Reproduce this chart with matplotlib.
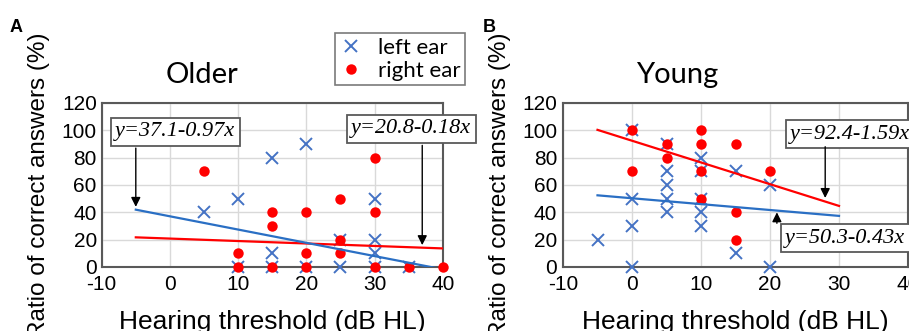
import matplotlib.pyplot as plt
import numpy as np
from matplotlib.lines import Line2D

plt.rcParams['font.family'] = ['Liberation Sans', 'DejaVu Sans']
plt.rcParams['axes.unicode_minus'] = False

# --- data ---
older_left_x = [5, 10, 10, 15, 15, 15, 20, 20, 25, 25, 30, 30, 30, 30, 35]
older_left_y = [40, 50, 0, 80, 10, 0, 90, 0, 20, 0, 50, 20, 10, 0, 0]
older_right_x = [5, 10, 10, 15, 15, 15, 20, 20, 20, 25, 25, 25, 30, 30, 30, 35, 40]
older_right_y = [70, 10, 0, 40, 30, 0, 40, 10, 0, 50, 20, 10, 80, 40, 0, 0, 0]

young_left_x = [-5, 0, 0, 0, 0, 5, 5, 5, 5, 5, 10, 10, 10, 10, 10, 15, 15, 20, 20]
young_left_y = [20, 100, 50, 30, 0, 90, 70, 60, 50, 40, 80, 70, 50, 40, 30, 70, 10, 60, 0]
young_right_x = [0, 0, 5, 5, 10, 10, 10, 10, 15, 15, 15, 20]
young_right_y = [100, 70, 90, 80, 100, 90, 70, 50, 90, 40, 20, 70]

# regression lines: (intercept, slope), fitted x range
older_left_fit = (37.1, -0.97)
older_right_fit = (20.8, -0.18)
young_left_fit = (50.3, -0.43)
young_right_fit = (92.4, -1.59)
older_range = (-5, 40)
young_range = (-5, 30)

xticks = [-10, 0, 10, 20, 30, 40]
yticks = [0, 20, 40, 60, 80, 100, 120]

BLUE_M = '#4472C4'
BLUE_L = '#2a6fc4'
RED = '#ff0000'
SPINE = '#595959'

fig = plt.figure(figsize=(9.09, 3.31), dpi=100)
ax_a = fig.add_axes([101.7/909, 64/331, 341/909, 164/331])
ax_b = fig.add_axes([563/909, 64/331, 345/909, 164/331])


def style_axes(ax, ypad):
    ax.set_xlim(xticks[0], xticks[-1])
    ax.set_ylim(yticks[0], yticks[-1])
    ax.set_xticks(xticks)
    ax.set_yticks(yticks)
    ax.grid(True, color='#d9d9d9', lw=1)
    ax.set_axisbelow(True)
    ax.tick_params(length=0, labelsize=15)
    ax.tick_params(axis='x', pad=6)
    ax.tick_params(axis='y', pad=ypad)
    for s in ax.spines.values():
        s.set_color(SPINE)
        s.set_linewidth(1.5)


def draw_panel(ax, lx, ly, rx, ry, lfit, rfit, xr):
    ax.plot(lx, ly, 'x', color=BLUE_M, ms=9, mew=1.4, clip_on=False, zorder=3)
    ax.plot(rx, ry, 'o', color=RED, ms=7.5, mec='none', clip_on=False, zorder=4)
    xs = np.array(xr)
    ax.plot(xs, rfit[0] + rfit[1]*xs, color=RED, lw=1.6, zorder=5)
    ax.plot(xs, lfit[0] + lfit[1]*xs, color=BLUE_L, lw=1.6, zorder=5)


def eq_box(ax, x, y, txt):
    ax.text(x, y, txt, ha='center', va='center', fontsize=16, style='italic',
            family=['Liberation Serif', 'DejaVu Serif'], clip_on=False, zorder=6,
            bbox=dict(boxstyle='square,pad=0.2', fc='white', ec=SPINE, lw=1.3))


def arrow(ax, x0, y0, x1, y1):
    ax.annotate('', xy=(x1, y1), xytext=(x0, y0), annotation_clip=False, zorder=6,
                arrowprops=dict(arrowstyle='-|>', color='black', lw=1,
                                mutation_scale=14, shrinkA=0, shrinkB=0))


style_axes(ax_a, 3.5)
style_axes(ax_b, 4.3)
draw_panel(ax_a, older_left_x, older_left_y, older_right_x, older_right_y,
           older_left_fit, older_right_fit, older_range)
draw_panel(ax_b, young_left_x, young_left_y, young_right_x, young_right_y,
           young_left_fit, young_right_fit, young_range)

eq_box(ax_a, 0.75, 99, 'y=37.1-0.97x')
eq_box(ax_a, 35.4, 101, 'y=20.8-0.18x')
arrow(ax_a, -5, 87, -5, 44)
arrow(ax_a, 37, 89, 37, 16)

eq_box(ax_b, 31.6, 97.3, 'y=92.4-1.59x')
eq_box(ax_b, 30.9, 21.2, 'y=50.3-0.43x')
arrow(ax_b, 28, 88, 28, 50.5)
arrow(ax_b, 21, 32, 21, 40)

for ax, ylx in ((ax_a, -0.185), (ax_b, -0.183)):
    ax.set_xlabel('Hearing threshold (dB HL)', fontsize=19)
    ax.set_ylabel('Ratio of correct answers (%)', fontsize=17.5, va='center')
    ax.xaxis.set_label_coords(0.5, -0.265)
    ax.yaxis.set_label_coords(ylx, 0.5)

fig.text(202/909, 1 - 83/331, 'Older', fontsize=21, family=['Lato', 'DejaVu Sans'],
         ha='center', va='baseline')
fig.text(677/909, 1 - 83/331, 'Young', fontsize=21, family=['Lato', 'DejaVu Sans'],
         ha='center', va='baseline')
fig.text(10/909, 1 - 32/331, 'A', fontsize=13, weight='bold', va='baseline')
fig.text(483/909, 1 - 32/331, 'B', fontsize=13, weight='bold', va='baseline')

handles = [Line2D([], [], ls='none', marker='x', color=BLUE_M, ms=9, mew=1.4),
           Line2D([], [], ls='none', marker='o', color=RED, ms=7.5, mec='none')]
leg = fig.legend(handles, ['left ear', 'right ear'], loc='upper left',
                 bbox_to_anchor=(335/909, 1 - 33/331), frameon=True, fancybox=False,
                 prop={'family': ['Lato', 'DejaVu Sans'], 'size': 16},
                 handlelength=1.0, handletextpad=0.7, labelspacing=0.12,
                 borderpad=0.22, borderaxespad=0)
leg.get_frame().set_edgecolor(SPINE)
leg.get_frame().set_linewidth(1.2)

plt.savefig('out.png', dpi=100)
